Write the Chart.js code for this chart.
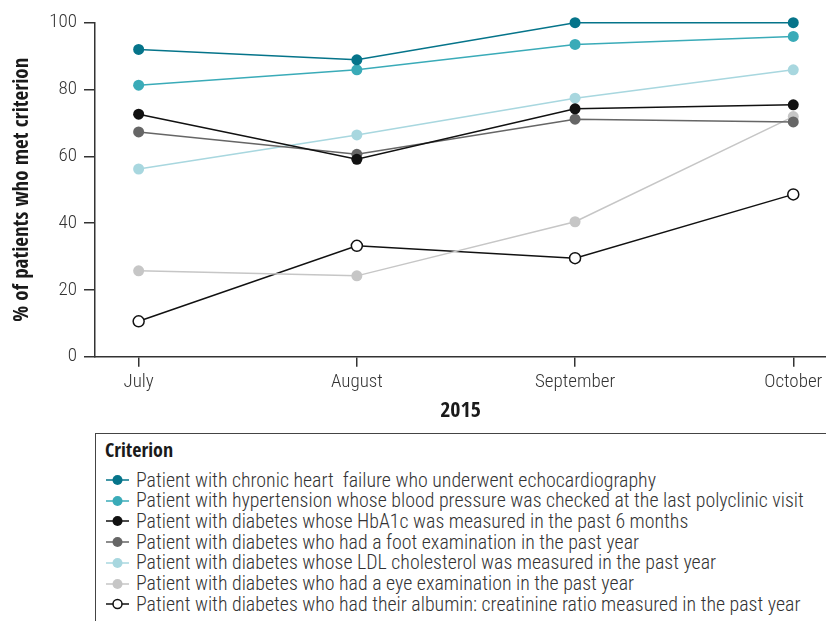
<!DOCTYPE html>
<html>
<head>
<meta charset="utf-8">
<script src="https://cdn.jsdelivr.net/npm/chart.js@4.4.1/dist/chart.umd.min.js"></script>
<style>
  html, body { margin: 0; padding: 0; background: #ffffff; }
  body { width: 826px; height: 621px; position: relative; overflow: hidden;
         font-family: 'Roboto Condensed', 'DejaVu Sans Condensed', sans-serif; }
  #wrap { position: absolute; left: 0; top: 0; width: 826px; height: 430px; }
  #legend { position: absolute; left: 95px; top: 433px; width: 760px; height: 220px;
            border: 1.5px solid #444; box-sizing: border-box; }
  #legend .title { position: absolute; left: 9px; top: 2px; font-weight: bold; font-size: 20px; color: #1a1a1a;
                   font-family: 'Open Sans Condensed', 'Roboto Condensed', sans-serif; }
  #legend .item { position: absolute; left: 10px; height: 20px; display: flex; align-items: center;
                  font-size: 19.9px; color: #333; white-space: pre; font-weight: 300; }
  #legend .item svg { margin-right: 6px; flex: none; }
</style>
</head>
<body>
<div id="wrap"><canvas id="c" width="826" height="430"></canvas></div>
<div id="legend"><div class="title"></div></div>
<script>
// ---- data ----
const months = ['July', 'August', 'September', 'October'];
const yTicks = [0, 20, 40, 60, 80, 100];
const xTitle = '2015';
const yTitle = '% of patients who met criterion';
const legendTitle = 'Criterion';

const chfEcho  = [92.0, 88.9, 100, 100];
const htnBP    = [81.3, 85.9, 93.5, 95.9];
const dmHbA1c  = [72.6, 59.1, 74.2, 75.4];
const dmFoot   = [67.3, 60.6, 71.1, 70.3];
const dmLDL    = [56.2, 66.4, 77.4, 85.9];
const dmEye    = [25.7, 24.2, 40.4, 71.9];
const dmACR    = [10.6, 33.2, 29.5, 48.6];

const seriesLabels = [
  'Patient with chronic heart  failure who underwent echocardiography',
  'Patient with hypertension whose blood pressure was checked at the last polyclinic visit',
  'Patient with diabetes whose HbA1c was measured in the past 6 months',
  'Patient with diabetes who had a foot examination in the past year',
  'Patient with diabetes whose LDL cholesterol was measured in the past year',
  'Patient with diabetes who had a eye examination in the past year',
  'Patient with diabetes who had their albumin: creatinine ratio measured in the past year'
];
const seriesValues = [chfEcho, htnBP, dmHbA1c, dmFoot, dmLDL, dmEye, dmACR];

// ---- styles ----
const lineColors  = ['#05748a', '#3aabb8', '#111111', '#666666', '#a8d7df', '#c6c6c6', '#111111'];
const pointFills  = ['#05748a', '#3aabb8', '#111111', '#666666', '#a8d7df', '#c6c6c6', '#ffffff'];
const FONT = "'Roboto Condensed', 'DejaVu Sans Condensed', sans-serif";
const BFONT = "'Open Sans Condensed', 'Roboto Condensed', sans-serif";

const datasets = seriesValues.map((vals, i) => ({
  label: seriesLabels[i],
  data: vals.map((v, k) => ({ x: k, y: v })),
  borderColor: lineColors[i],
  backgroundColor: pointFills[i],
  pointBackgroundColor: pointFills[i],
  pointBorderColor: lineColors[i],
  pointBorderWidth: i === 6 ? 1.5 : 0,
  pointRadius: 5.5,
  borderWidth: 1.5,
  tension: 0,
  clip: false,
  order: i
}));

new Chart(document.getElementById('c'), {
  type: 'line',
  data: { datasets },
  options: {
    responsive: false,
    animation: false,
    events: [],
    layout: { autoPadding: false, padding: { top: 22.7, right: 0, left: 0, bottom: 0 } },
    plugins: { legend: { display: false }, tooltip: { enabled: false } },
    scales: {
      x: {
        type: 'linear',
        min: -0.2,
        max: 3.15,
        afterBuildTicks: s => { s.ticks = months.map((m, k) => ({ value: k })); },
        afterFit: s => { s.height = 430 - 356.7; s.paddingLeft = 0; s.paddingRight = 0; },
        border: { display: true, color: '#333', width: 1.5 },
        grid: { display: true, drawOnChartArea: false, drawTicks: true, tickLength: 10, color: '#333', lineWidth: 1.5 },
        ticks: {
          autoSkip: false, maxRotation: 0, padding: 4,
          color: '#333', font: { family: FONT, size: 19, weight: 300 },
          callback: v => months[v] !== undefined ? months[v] : ''
        },
        title: { display: true, text: xTitle, color: '#1a1a1a',
                 font: { family: BFONT, size: 22, weight: 'bold' }, padding: { top: 0, bottom: 5.8 } }
      },
      y: {
        min: 0, max: 100,
        afterBuildTicks: s => { s.ticks = yTicks.map(v => ({ value: v })); },
        afterFit: s => { s.width = 95; },
        border: { display: true, color: '#333', width: 1.5 },
        grid: { display: true, drawOnChartArea: false, drawTicks: true, tickLength: 11, color: '#333', lineWidth: 1.5 },
        ticks: { padding: 7, color: '#333', font: { family: FONT, size: 19, weight: 300 } },
        title: { display: true, text: yTitle, color: '#1a1a1a',
                 font: { family: BFONT, size: 21, weight: 'bold' }, padding: { top: 10, bottom: 0 } }
      }
    }
  }
});

// ---- HTML legend (real text) ----
const legend = document.getElementById('legend');
legend.querySelector('.title').textContent = legendTitle;
const itemTops = [480.7, 501.2, 521.9, 542.6, 563.3, 584.0, 604.7];
seriesLabels.forEach((lab, i) => {
  const d = document.createElement('div');
  d.className = 'item';
  d.style.top = (itemTops[i] - 433 - 10 - 1.5) + 'px';
  const svgNS = 'http://www.w3.org/2000/svg';
  const svg = document.createElementNS(svgNS, 'svg');
  svg.setAttribute('width', '24'); svg.setAttribute('height', '14');
  const ln = document.createElementNS(svgNS, 'line');
  ln.setAttribute('x1', '0'); ln.setAttribute('x2', '23'); ln.setAttribute('y1', '7'); ln.setAttribute('y2', '7');
  ln.setAttribute('stroke', lineColors[i]); ln.setAttribute('stroke-width', '1.5');
  const c = document.createElementNS(svgNS, 'circle');
  c.setAttribute('cx', '11.5'); c.setAttribute('cy', '7'); c.setAttribute('r', i === 6 ? '4.5' : '5');
  c.setAttribute('fill', pointFills[i]);
  if (i === 6) { c.setAttribute('stroke', lineColors[i]); c.setAttribute('stroke-width', '1.5'); }
  svg.appendChild(ln); svg.appendChild(c);
  d.appendChild(svg);
  const t = document.createElement('span');
  t.textContent = lab;
  d.appendChild(t);
  legend.appendChild(d);
});
</script>
</body>
</html>
